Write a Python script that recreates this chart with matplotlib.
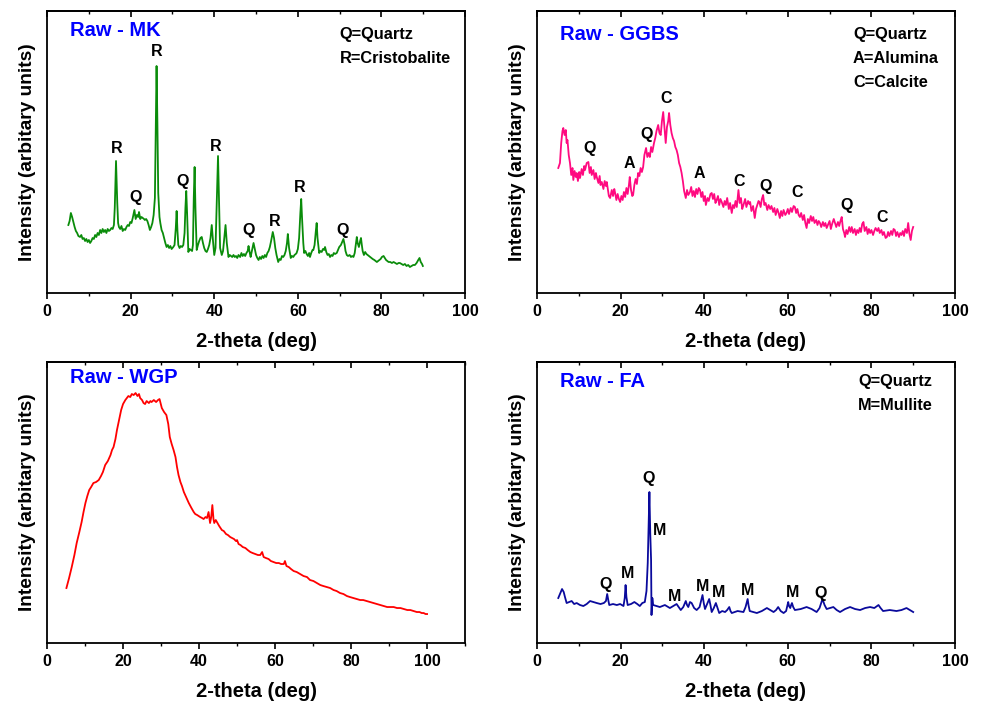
import matplotlib
matplotlib.use("Agg")
import matplotlib.pyplot as plt
from matplotlib.ticker import MultipleLocator

plt.rcParams['font.family'] = ['Liberation Sans', 'DejaVu Sans']
plt.rcParams['font.weight'] = 'bold'

# ---- Raw - MK (2-theta, intensity) ----
mk_2theta = [5.1, 5.4, 5.7, 6.0, 6.3, 6.6, 6.9, 7.2, 7.5, 7.9, 8.2, 8.5, 8.8, 9.1, 9.4, 9.7, 10.0, 10.3, 10.6, 10.9,
             11.2, 11.5, 11.8, 12.1, 12.4, 12.7, 13.0, 13.3, 13.6, 13.9, 14.2, 14.5, 14.8, 15.1, 15.4, 15.7, 16.0, 16.2,
             16.5, 16.8, 17.0, 17.2, 17.5, 17.8, 18.1, 18.4, 18.7, 19.0, 19.3, 19.6, 19.9, 20.2, 20.5, 20.9, 21.2, 21.5,
             21.8, 22.0, 22.3, 22.6, 22.9, 23.2, 23.4, 23.7, 24.0, 24.3, 24.6, 24.9, 25.2, 25.5, 25.8, 26.0, 26.2, 26.4,
             26.6, 26.9, 27.1, 27.4, 27.7, 28.0, 28.3, 28.6, 28.9, 29.2, 29.5, 29.8, 30.2, 30.5, 30.8, 31.0, 31.2, 31.4,
             31.7, 32.0, 32.3, 32.6, 32.9, 33.1, 33.3, 33.5, 33.8, 34.1, 34.4, 34.7, 34.9, 35.1, 35.3, 35.5, 35.8, 36.1,
             36.4, 36.7, 37.0, 37.3, 37.6, 37.9, 38.2, 38.5, 38.8, 39.1, 39.4, 39.7, 40.0, 40.3, 40.6, 40.9, 41.1, 41.4,
             41.8, 42.1, 42.4, 42.7, 43.0, 43.4, 43.7, 44.0, 44.3, 44.6, 44.9, 45.2, 45.5, 45.8, 46.2, 46.5, 46.8, 47.1,
             47.4, 47.7, 48.0, 48.2, 48.5, 48.7, 49.0, 49.4, 49.7, 50.0, 50.3, 50.6, 50.9, 51.2, 51.5, 51.8, 52.1, 52.4,
             52.7, 53.0, 53.3, 53.6, 54.0, 54.3, 54.6, 54.9, 55.3, 55.6, 55.9, 56.2, 56.5, 56.8, 57.1, 57.4, 57.6, 57.9,
             58.3, 58.6, 58.9, 59.2, 59.5, 59.7, 60.0, 60.3, 60.6, 60.8, 61.0, 61.3, 61.5, 61.8, 62.1, 62.4, 62.7, 62.9,
             63.2, 63.5, 63.7, 64.0, 64.3, 64.5, 64.7, 65.1, 65.4, 65.7, 66.0, 66.3, 66.5, 66.8, 67.1, 67.4, 67.7, 68.0,
             68.3, 68.6, 68.9, 69.3, 69.6, 69.9, 70.3, 70.6, 70.9, 71.2, 71.4, 71.7, 72.0, 72.4, 72.7, 73.0, 73.3, 73.6,
             73.9, 74.1, 74.3, 74.6, 74.9, 75.1, 75.3, 75.5, 75.8, 76.1, 76.4, 76.7, 77.0, 77.3, 77.6, 77.9, 78.3, 78.6,
             78.9, 79.2, 79.5, 79.8, 80.1, 80.5, 80.8, 81.1, 81.4, 81.7, 82.1, 82.5, 82.9, 83.3, 83.7, 84.1, 84.4, 84.8,
             85.2, 85.6, 86.0, 86.4, 86.8, 87.2, 87.6, 88.0, 88.4, 88.8, 89.1, 89.4, 89.7, 89.9]
mk_int = [68, 72, 80, 76, 71, 66, 62, 60, 57, 56, 58, 54, 55, 52, 54, 51, 53, 50, 52, 55,
          54, 58, 56, 60, 58, 63, 60, 64, 61, 63, 60, 64, 62, 63, 65, 64, 68, 85,
          132, 90, 70, 66, 64, 67, 62, 64, 63, 66, 68, 67, 71, 70, 75, 83, 74, 78,
          76, 81, 74, 76, 75, 74, 73, 74, 72, 68, 63, 66, 70, 78, 95, 160, 227, 170,
          100, 76, 70, 63, 60, 55, 50, 46, 48, 45, 47, 44, 46, 48, 65, 82, 62, 48,
          45, 47, 46, 48, 60, 85, 102, 80, 41, 44, 43, 42, 48, 95, 126, 85, 43, 48,
          52, 55, 56, 50, 45, 42, 41, 44, 48, 55, 68, 52, 38, 45, 90, 137, 100, 45,
          38, 42, 55, 68, 50, 36, 38, 37, 36, 38, 36, 37, 35, 38, 36, 40, 37, 39,
          37, 40, 42, 47, 40, 36, 42, 50, 44, 38, 35, 33, 36, 34, 37, 35, 38, 36,
          40, 42, 46, 52, 61, 55, 45, 38, 31, 34, 33, 37, 36, 38, 42, 50, 59, 45,
          35, 37, 36, 38, 39, 40, 44, 55, 80, 94, 75, 50, 40, 42, 39, 37, 40, 36,
          40, 43, 43, 48, 62, 70, 55, 40, 42, 41, 44, 43, 46, 41, 38, 39, 36, 38,
          37, 40, 39, 40, 43, 46, 48, 51, 54, 48, 42, 38, 37, 38, 36, 37, 36, 40,
          50, 56, 50, 46, 52, 55, 48, 42, 38, 41, 39, 38, 37, 36, 35, 34, 33, 32,
          31, 32, 33, 34, 36, 37, 35, 33, 32, 31, 31, 30, 31, 30, 29, 30, 30, 29,
          28, 29, 27, 28, 26, 27, 28, 28, 30, 33, 35, 31, 29, 27]
mk_lbl = ["R", "Q", "R", "Q", "R", "Q", "R", "R", "Q"]
mk_lbl_x = [16.7, 21.1, 26.3, 32.5, 40.4, 48.3, 54.5, 60.5, 70.6]
mk_lbl_y = [145, 95, 242, 111, 147, 62, 71, 105, 62]
mk_key = ["Q=Quartz", "R=Cristobalite"]

# ---- Raw - GGBS ----
ggbs_2theta = [5.1, 5.5, 5.8, 6.1, 6.3, 6.6, 6.9, 7.1, 7.3, 7.6, 7.9, 8.2, 8.5, 8.7, 9.0, 9.3, 9.5, 9.8, 10.1, 10.3,
               10.7, 11.0, 11.3, 11.5, 11.9, 12.3, 12.6, 12.9, 13.1, 13.5, 13.8, 14.1, 14.3, 14.7, 15.0, 15.2, 15.5,
               15.9, 16.2, 16.5, 16.7, 17.0, 17.2, 17.5, 17.9, 18.2, 18.5, 18.7, 19.0, 19.3, 19.6, 19.9, 20.2, 20.5,
               20.8, 21.1, 21.4, 21.7, 22.0, 22.2, 22.5, 22.8, 23.0, 23.3, 23.6, 23.9, 24.2, 24.5, 24.8, 25.1, 25.4,
               25.7, 26.1, 26.4, 26.7, 27.0, 27.3, 27.6, 28.0, 28.3, 28.6, 29.0, 29.3, 29.6, 29.9, 30.2, 30.5, 30.8,
               31.1, 31.4, 31.6, 31.9, 32.2, 32.5, 32.8, 33.1, 33.4, 33.7, 34.0, 34.3, 34.6, 34.9, 35.2, 35.6, 35.9,
               36.2, 36.6, 36.9, 37.2, 37.5, 37.8, 38.1, 38.4, 38.7, 39.0, 39.3, 39.6, 39.9, 40.2, 40.4, 40.8, 41.1,
               41.5, 41.8, 42.1, 42.4, 42.7, 43.0, 43.3, 43.6, 43.9, 44.2, 44.6, 44.9, 45.2, 45.5, 45.9, 46.2, 46.6,
               46.9, 47.2, 47.5, 47.8, 48.2, 48.5, 48.8, 49.1, 49.4, 49.8, 50.1, 50.5, 50.8, 51.0, 51.3, 51.7, 52.1,
               52.4, 52.7, 53.0, 53.2, 53.5, 53.8, 54.1, 54.4, 54.7, 55.1, 55.4, 55.8, 56.1, 56.5, 56.8, 57.1, 57.5,
               57.8, 58.1, 58.4, 58.7, 59.0, 59.4, 59.7, 60.0, 60.3, 60.7, 61.0, 61.4, 61.7, 62.0, 62.3, 62.6, 62.9,
               63.2, 63.6, 63.9, 64.2, 64.5, 64.8, 65.1, 65.5, 65.8, 66.1, 66.4, 66.8, 67.1, 67.4, 67.7, 68.0, 68.4,
               68.7, 69.0, 69.3, 69.6, 70.0, 70.3, 70.6, 71.0, 71.3, 71.6, 72.0, 72.3, 72.6, 72.9, 73.2, 73.5, 73.7,
               74.0, 74.3, 74.7, 75.0, 75.3, 75.6, 76.0, 76.3, 76.6, 76.9, 77.2, 77.5, 77.8, 78.1, 78.4, 78.8, 79.1,
               79.4, 79.7, 80.0, 80.4, 80.7, 81.0, 81.4, 81.7, 82.0, 82.4, 82.7, 83.0, 83.4, 83.7, 84.0, 84.3, 84.7,
               85.0, 85.3, 85.6, 85.9, 86.2, 86.6, 86.9, 87.2, 87.5, 87.8, 88.1, 88.5, 88.8, 89.1, 89.4, 89.7, 90.0]
ggbs_int = [125, 130, 150, 162, 165, 158, 163, 150, 153, 138, 130, 118, 125, 113, 122, 116, 120, 112, 121, 115,
            124, 118, 127, 123, 130, 131, 120, 126, 118, 123, 114, 120, 116, 110, 117, 108, 111,
            104, 112, 107, 111, 103, 97, 95, 103, 97, 104, 100, 93, 99, 94, 91, 97, 93,
            101, 96, 105, 99, 108, 116, 103, 97, 98, 108, 114, 109, 120, 117, 125, 121, 126,
            138, 145, 136, 140, 136, 146, 141, 150, 155, 162, 168, 160, 158, 172, 181, 165, 150,
            166, 172, 180, 168, 160, 155, 152, 146, 143, 138, 130, 126, 120, 112, 102, 95, 103,
            98, 101, 106, 97, 102, 96, 104, 99, 105, 103, 96, 101, 92, 97, 88, 95, 92,
            99, 100, 94, 99, 90, 93, 97, 88, 94, 91, 86, 92, 88, 95, 84, 90, 80,
            88, 85, 92, 86, 103, 90, 95, 84, 88, 94, 86, 92, 89, 91, 82, 87, 75,
            84, 88, 92, 91, 86, 94, 98, 88, 90, 83, 88, 84, 87, 81, 85, 78, 84,
            80, 75, 82, 77, 83, 78, 80, 84, 79, 85, 81, 87, 86, 80, 84, 78, 76,
            80, 73, 78, 70, 65, 74, 70, 77, 72, 76, 70, 73, 68, 72, 70, 66, 71,
            67, 70, 65, 68, 72, 64, 69, 74, 70, 66, 71, 67, 72, 76, 64, 60, 56,
            63, 59, 66, 61, 66, 60, 64, 58, 63, 60, 65, 61, 69, 71, 62, 66, 59,
            64, 60, 63, 58, 62, 65, 62, 65, 60, 63, 58, 61, 55, 56, 61, 57, 62,
            58, 64, 63, 57, 61, 56, 60, 58, 62, 57, 64, 60, 70, 59, 53, 62, 66]
ggbs_lbl = ["Q", "A", "Q", "C", "A", "C", "Q", "C", "Q", "C"]
ggbs_lbl_x = [12.7, 22.2, 26.1, 31.0, 38.8, 48.4, 54.8, 62.3, 74.1, 82.5]
ggbs_lbl_y = [145, 130, 159, 195, 120, 111, 106, 100, 87, 75]
ggbs_key = ["Q=Quartz", "A=Alumina", "C=Calcite"]

# ---- Raw - WGP ----
wgp_2theta = [5.1, 5.8, 6.5, 7.2, 7.8, 8.5, 9.1, 9.6, 10.1, 10.6, 11.1, 11.6, 12.2, 12.9, 13.6, 14.2, 14.7, 15.3,
              16.0, 16.7, 17.1, 17.5, 18.0, 18.4, 19.0, 19.5, 20.0, 20.6, 21.0, 21.4, 21.9, 22.3, 22.8, 23.3, 23.8,
              24.2, 24.5, 25.0, 25.4, 25.8, 26.2, 26.8, 27.2, 27.5, 28.1, 28.7, 29.2, 29.6, 30.2, 30.8, 31.4, 31.9,
              32.3, 32.8, 33.3, 33.8, 34.2, 34.6, 35.1, 35.5, 36.0, 36.6, 37.3, 38.0, 38.6, 39.0, 39.5, 40.3, 40.8,
              41.2, 41.7, 42.1, 42.5, 42.9, 43.2, 43.5, 43.8, 44.0, 44.4, 44.7, 45.3, 46.0, 46.5, 47.1, 47.6, 48.2,
              48.7, 49.2, 49.7, 50.0, 50.4, 50.9, 51.5, 52.2, 52.8, 53.5, 54.1, 54.8, 55.5, 56.1, 56.6, 57.0, 57.6,
              58.3, 58.9, 59.6, 60.3, 61.0, 61.6, 62.3, 62.6, 63.0, 63.6, 64.2, 64.9, 65.7, 66.6, 67.5, 68.4, 69.2,
              70.1, 71.0, 71.9, 72.7, 73.6, 74.5, 75.4, 76.2, 77.1, 78.0, 78.9, 79.7, 80.6, 81.5, 82.4, 83.2, 84.1,
              85.0, 85.9, 86.8, 87.7, 88.6, 89.5, 90.3, 91.2, 92.1, 93.0, 93.9, 94.8, 95.6, 96.5, 97.3, 98.0, 98.6,
              99.1, 99.6, 100.0]
wgp_int = [55, 65, 76, 88, 100, 111, 121, 131, 140, 147, 153, 156, 160, 161, 163, 167, 171, 178,
           182, 188, 193, 196, 204, 213, 224, 233, 239, 243, 245, 247, 246, 249, 248, 250, 247,
           249, 245, 243, 240, 239, 242, 240, 242, 241, 243, 241, 243, 244, 235, 231, 228, 219,
           206, 199, 193, 186, 176, 168, 161, 157, 151, 146, 140, 135, 131, 129, 128, 126, 125,
           124, 126, 125, 131, 120, 126, 138, 124, 120, 123, 121, 117, 113, 112, 109, 108, 106,
           105, 104, 102, 103, 99, 98, 96, 95, 93, 91, 90, 89, 88, 88, 91, 86, 85,
           84, 82, 81, 80, 80, 79, 79, 82, 77, 76, 74, 72, 71, 69, 67, 66, 63,
           62, 60, 58, 57, 56, 55, 53, 52, 50, 49, 47, 46, 45, 44, 43, 43, 42,
           41, 40, 39, 38, 37, 36, 36, 36, 35, 35, 34, 33, 33, 32, 31, 31, 30,
           30, 29, 29]

# ---- Raw - FA ----
fa_2theta = [5.1, 5.6, 6.0, 6.4, 6.7, 7.1, 7.7, 8.3, 8.9, 9.5, 10.3, 11.1, 11.9, 12.7, 13.5, 14.3, 15.2, 16.0, 16.5,
             16.8, 17.1, 17.3, 18.2, 19.1, 19.9, 20.7, 21.0, 21.2, 21.4, 21.7, 22.5, 23.3, 24.0, 24.6, 25.2, 25.8,
             26.2, 26.5, 26.9, 27.1, 27.3, 27.4, 27.6, 27.8, 28.6, 29.4, 30.6, 31.8, 32.6, 33.4, 33.9, 34.4, 35.0,
             35.6, 35.9, 36.2, 36.6, 37.0, 37.6, 38.2, 38.9, 39.6, 39.9, 40.2, 40.7, 41.2, 41.5, 41.8, 42.3, 42.8,
             43.2, 43.6, 44.3, 45.0, 45.5, 46.0, 46.3, 46.6, 48.0, 49.4, 49.9, 50.4, 50.6, 50.9, 51.8, 52.6, 53.8,
             55.0, 55.8, 56.6, 57.2, 57.7, 58.3, 59.0, 59.6, 60.1, 60.3, 60.6, 60.8, 61.0, 61.3, 61.7, 63.1, 64.5,
             65.7, 66.9, 67.6, 68.3, 68.8, 69.3, 70.1, 70.9, 71.7, 72.5, 73.7, 74.9, 76.1, 77.3, 78.5, 79.7, 80.7,
             81.7, 82.2, 82.8, 84.4, 86.0, 87.2, 88.4, 89.2, 90.0]
fa_int = [45, 50, 54, 51, 46, 40, 41, 42, 39, 40, 38, 37, 39, 42, 41, 40, 39, 40, 42,
          49, 42, 38, 39, 38, 39, 37, 45, 58, 46, 38, 39, 41, 39, 37, 40, 41,
          52, 80, 151, 110, 83, 28, 45, 38, 37, 36, 38, 35, 37, 39, 36, 33, 36,
          42, 38, 36, 41, 40, 35, 33, 36, 48, 40, 34, 39, 44, 38, 31, 35, 40,
          35, 30, 32, 31, 33, 36, 32, 30, 32, 31, 36, 44, 38, 32, 31, 30, 32,
          35, 33, 31, 33, 36, 32, 30, 32, 41, 37, 35, 38, 40, 36, 33, 34, 36,
          34, 31, 35, 44, 38, 34, 35, 36, 33, 31, 34, 36, 34, 33, 35, 36, 35,
          38, 35, 32, 33, 32, 33, 35, 33, 31]
fa_lbl = ["Q", "M", "Q", "M", "M", "M", "M", "M", "M", "Q"]
fa_lbl_x = [16.3, 21.6, 26.8, 29.4, 33.0, 39.5, 43.5, 50.4, 61.1, 67.9]
fa_lbl_y = [59, 70, 165, 113, 47, 57, 51, 53, 51, 50]
fa_key = ["Q=Quartz", "M=Mullite"]

fig = plt.figure(figsize=(9.82, 7.06), dpi=100)
ax_mk = fig.add_axes([0.0479, 0.585, 0.4257, 0.3994])
ax_gg = fig.add_axes([0.5468, 0.585, 0.4257, 0.3994])
ax_wg = fig.add_axes([0.0479, 0.0892, 0.4257, 0.398])
ax_fa = fig.add_axes([0.5468, 0.0892, 0.4257, 0.398])


def style_axis(ax, xmax, ymax, title, title_y):
    ax.set_xlim(0, xmax)
    ax.set_ylim(0, ymax)
    ax.set_xticks([0, 20, 40, 60, 80, 100])
    ax.xaxis.set_minor_locator(MultipleLocator(10))
    ax.set_yticks([])
    ax.tick_params(axis='x', which='major', direction='out', length=4, width=1.2, labelsize=11.5, pad=4)
    ax.tick_params(axis='x', which='minor', direction='out', length=2.5, width=1.0)
    for s in ax.spines.values():
        s.set_linewidth(1.3)
    ax.set_xlabel("2-theta (deg)", fontsize=14.5, fontweight='bold', labelpad=9.5)
    ax.set_ylabel("Intensity (arbitary units)", fontsize=13.8, fontweight='bold', labelpad=8)
    ax.text(0.055, title_y, title, transform=ax.transAxes, color='#0000ff',
            fontsize=14.5, fontweight='bold', va='center', ha='left')
    # ticks on top axis point inward
    sec = ax.secondary_xaxis('top')
    sec.set_xticks([0, 20, 40, 60, 80, 100])
    sec.xaxis.set_minor_locator(MultipleLocator(10))
    sec.tick_params(axis='x', which='major', direction='in', length=4, width=1.2, labeltop=False)
    sec.tick_params(axis='x', which='minor', direction='in', length=2.5, width=1.0)
    sec.spines['top'].set_linewidth(1.3)


def add_key(ax, lines, x0, y0, dy):
    for i, t in enumerate(lines):
        ax.text(x0, y0 - i * dy, t, transform=ax.transAxes, fontsize=11.8,
                fontweight='bold', va='center', ha='left')


def add_peaks(ax, labels, xs, ys):
    for t, x, y in zip(labels, xs, ys):
        ax.text(x, y, t, fontsize=11.5, fontweight='bold', ha='center', va='center')


ax_mk.plot(mk_2theta, mk_int, color='#0a8c0a', linewidth=1.3)
style_axis(ax_mk, 100, 282, "Raw - MK", 0.932)
add_key(ax_mk, mk_key, 0.70, 0.915, 0.085)
add_peaks(ax_mk, mk_lbl, mk_lbl_x, mk_lbl_y)

ax_gg.plot(ggbs_2theta, ggbs_int, color='#ff0a80', linewidth=1.3)
style_axis(ax_gg, 100, 282, "Raw - GGBS", 0.918)
add_key(ax_gg, ggbs_key, 0.756, 0.915, 0.085)
add_peaks(ax_gg, ggbs_lbl, ggbs_lbl_x, ggbs_lbl_y)

ax_wg.plot(wgp_2theta, wgp_int, color='#ff0000', linewidth=1.3)
style_axis(ax_wg, 110, 281, "Raw - WGP", 0.945)

ax_fa.plot(fa_2theta, fa_int, color='#0a0a9c', linewidth=1.3)
style_axis(ax_fa, 100, 281, "Raw - FA", 0.93)
add_key(ax_fa, fa_key, 0.768, 0.93, 0.083)
add_peaks(ax_fa, fa_lbl, fa_lbl_x, fa_lbl_y)

fig.savefig("out.png", dpi=100)
